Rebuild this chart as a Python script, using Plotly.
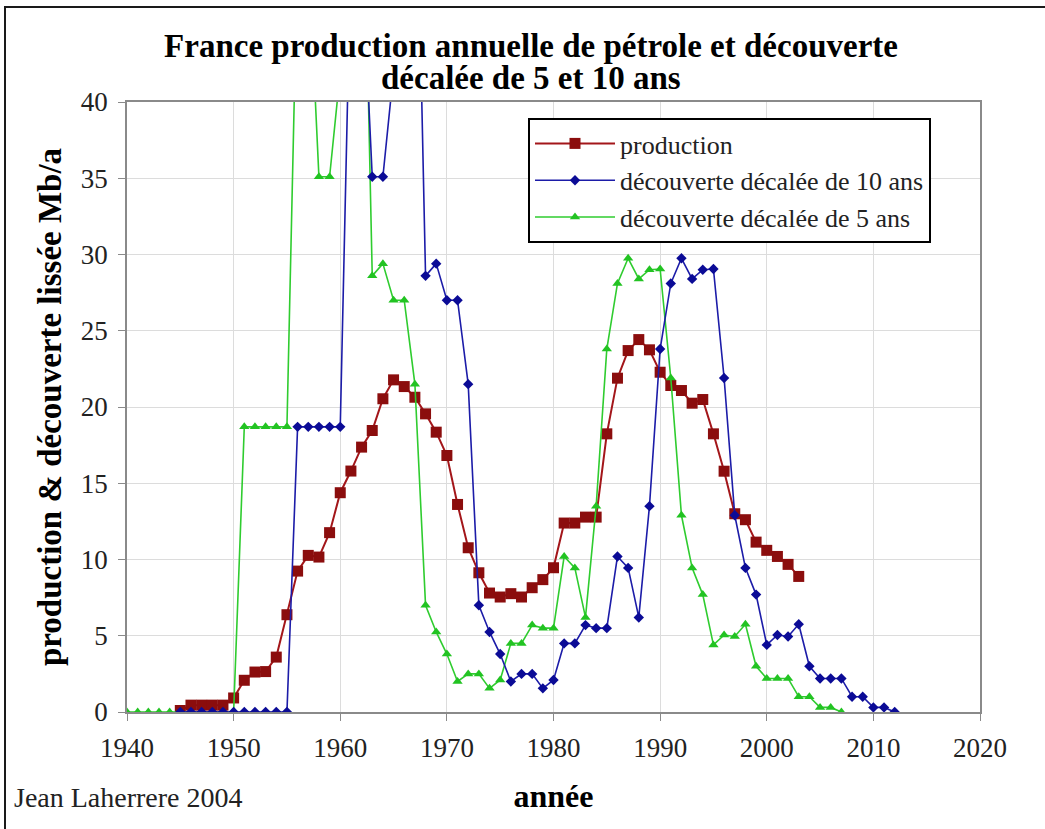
import plotly.graph_objects as go

# ---------------- data ----------------
prod_years = list(range(1945, 2004))
production = [0.1, 0.45, 0.45, 0.45, 0.45, 0.92, 2.08, 2.62, 2.65, 3.6,
              6.38, 9.24, 10.27, 10.16, 11.76, 14.38, 15.8, 17.37, 18.46, 20.54,
              21.78, 21.34, 20.64, 19.55, 18.35, 16.82, 13.61, 10.77, 9.13, 7.8,
              7.54, 7.76, 7.54, 8.15, 8.68, 9.46, 12.39, 12.39, 12.78, 12.78,
              18.24, 21.89, 23.7, 24.42, 23.75, 22.28, 21.41, 21.08, 20.25, 20.49,
              18.24, 15.79, 13.0, 12.61, 11.14, 10.6, 10.2, 9.68, 8.89]

# smoothed discovery by discovery year (1935-2002)
disc_years = list(range(1935, 2003))
discovery = [0, 0, 0, 0, 0, 0, 0, 0, 0, 0, 0,
             18.7, 18.7, 18.7, 18.7, 18.7,
             50, 50, 35.1, 35.1, 42, 60, 61,
             28.6, 29.4, 27.0, 27.0, 21.5,
             7.0, 5.25, 3.8, 2.0, 2.5, 2.5, 1.55, 2.1, 4.5, 4.5, 5.7, 5.5, 5.5,
             10.2, 9.45, 6.2, 13.5,
             23.8, 28.1, 29.75, 28.4, 29.0, 29.05, 21.9, 12.9, 9.45, 7.7, 4.4,
             5.05, 4.95, 5.75, 3.0, 2.2, 2.2, 2.2, 1.0, 1.0, 0.3, 0.3, 0.0]

shift_10 = 10
shift_5 = 5
x_ticks = list(range(1940, 2021, 10))
y_ticks = list(range(0, 41, 5))

title_line1 = "France production annuelle de pétrole et découverte"
title_line2 = "décalée de 5 et 10 ans"
name_prod = "production"
name_10 = "découverte décalée de 10 ans"
name_5 = "découverte décalée de 5 ans"

SERIF = "Liberation Serif"

fig = go.Figure()
fig.add_trace(go.Scatter(
    x=prod_years, y=production, name=name_prod, mode="lines+markers",
    line=dict(color="#a3161a", width=2),
    marker=dict(symbol="square", size=11, color="#8b0d0d"),
    legendrank=1))
fig.add_trace(go.Scatter(
    x=[y + shift_5 for y in disc_years], y=discovery, name=name_5, mode="lines+markers",
    line=dict(color="#2fcc2f", width=1.6),
    marker=dict(symbol="triangle-up", size=9, color="#22c322"),
    legendrank=3))
fig.add_trace(go.Scatter(
    x=[y + shift_10 for y in disc_years], y=discovery, name=name_10, mode="lines+markers",
    line=dict(color="#1c1ca8", width=1.6),
    marker=dict(symbol="diamond", size=8, color="#0b0b96"),
    legendrank=2))

W, H = 1045, 829
L, R, T, B = 127, 65, 102, 117
pw = W - L - R
ph = H - T - B

def px_to_paper_x(px):
    return (px - L) / pw

def py_to_paper_y(py):
    return (H - B - py) / ph

bold = dict(family=SERIF, size=33, color="black", weight="bold")

fig.update_layout(
    width=W, height=H,
    margin=dict(l=L, r=R, t=T, b=B),
    paper_bgcolor="white", plot_bgcolor="white",
    font=dict(family=SERIF, color="#222222", size=27),
    title=dict(text=title_line1, x=px_to_paper_x(531), xref="paper", xanchor="center",
               y=1 - 45 / H, yanchor="middle", yref="container", font=bold),
    showlegend=True,
    legend=dict(x=px_to_paper_x(528), y=py_to_paper_y(118), xanchor="left", yanchor="top",
                bgcolor="white", bordercolor="black", borderwidth=2,
                font=dict(family=SERIF, size=26, color="#222222"),
                itemwidth=80),
    xaxis=dict(range=[1940, 2020], tickvals=x_ticks, showgrid=True, gridcolor="#dcdcdc",
               gridwidth=1, showline=True, linecolor="#8a8a8a", linewidth=1.5, mirror=True,
               ticks="outside", ticklen=7, tickcolor="#8a8a8a", zeroline=False,
               ticklabelstandoff=4,
               tickfont=dict(family=SERIF, size=27, color="#222222"),
               title=dict(text="année", standoff=22,
                          font=dict(family=SERIF, size=32, color="black", weight="bold"))),
    yaxis=dict(range=[0, 40], tickvals=y_ticks, showgrid=True, gridcolor="#dcdcdc",
               gridwidth=1, showline=True, linecolor="#8a8a8a", linewidth=1.5, mirror=True,
               ticks="outside", ticklen=7, tickcolor="#8a8a8a", zeroline=False,
               ticklabelstandoff=5,
               tickfont=dict(family=SERIF, size=27, color="#222222"),
               title=dict(text="production & découverte lissée Mb/a", standoff=9,
                          font=dict(family=SERIF, size=33, color="black", weight="bold"))),
    shapes=[dict(type="rect", xref="paper", yref="paper",
                 x0=px_to_paper_x(5), x1=px_to_paper_x(1060),
                 y0=py_to_paper_y(845), y1=py_to_paper_y(7),
                 line=dict(color="#1a1a1a", width=2), fillcolor="rgba(0,0,0,0)",
                 layer="below")],
    annotations=[
        dict(text=title_line2, xref="paper", yref="paper",
             x=px_to_paper_x(531), y=py_to_paper_y(78), xanchor="center",
             yanchor="middle", showarrow=False, font=bold),
        dict(text="Jean Laherrere 2004", xref="paper", yref="paper",
             x=px_to_paper_x(12), y=py_to_paper_y(797), xanchor="left",
             yanchor="middle", showarrow=False,
             font=dict(family=SERIF, size=28, color="#222222"))],
)

fig.write_html("out.html", config={"displayModeBar": False},
               post_script="document.body.style.margin='0px';")
